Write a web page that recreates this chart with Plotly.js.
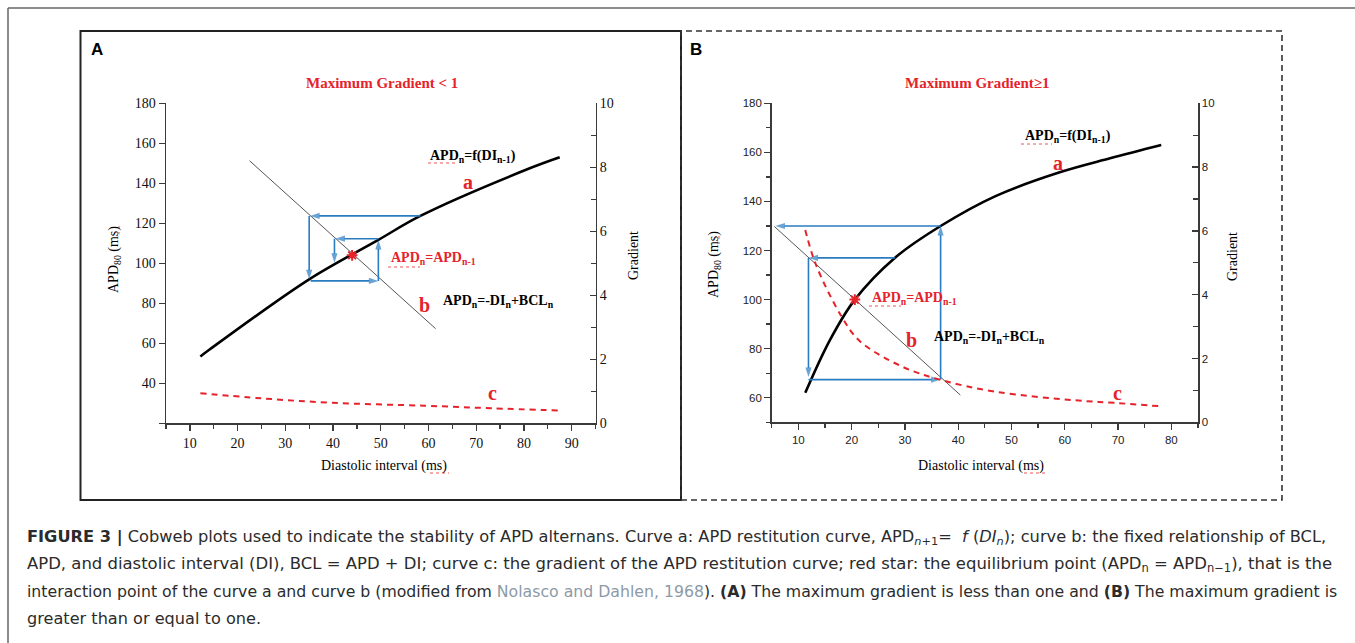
<!DOCTYPE html>
<html>
<head>
<meta charset="utf-8">
<script src="https://cdn.plot.ly/plotly-3.0.1.min.js"></script>
<style>
html,body{margin:0;padding:0;background:#fff;overflow:hidden;}
#chart{width:1355px;height:643px;}
</style>
</head>
<body>
<div id="chart"></div>
<script>
// ---------- Panel A data (Maximum Gradient < 1) ----------
const A_di_a   = [12.2, 14.2, 35.0, 49.5, 58.3, 80.7, 87.5];
const A_apd_a  = [53.4, 57.0, 92.0, 111.7, 123.7, 147.0, 153.0];
const A_di_b   = [22.5, 61.5];
const A_apd_b  = [151.3, 67.3];
const A_di_c   = [12.2, 25.0, 39.9, 59.1, 73.2, 87.5];
const A_grad_c = [0.94, 0.78, 0.64, 0.55, 0.47, 0.40];
const A_star_di  = [44.0];
const A_star_apd = [104.0];
// cobweb arrows: tail (x0,y0) -> head (x1,y1)
const A_cob_x0 = [58.3, 35.0, 35.3, 49.5, 49.5, 40.3];
const A_cob_y0 = [123.7, 123.7, 91.2, 91.2, 112.3, 112.3];
const A_cob_x1 = [35.2, 35.0, 49.5, 49.5, 40.5, 40.3];
const A_cob_y1 = [123.7, 92.0, 91.2, 111.7, 112.3, 100.3];

// ---------- Panel B data (Maximum Gradient >= 1) ----------
const B_di_a   = [11.3, 15.9, 20.6, 28.1, 36.7, 47.0, 58.9, 68.5, 78.1];
const B_apd_a  = [62.0, 83.4, 100.0, 117.0, 130.0, 142.2, 151.8, 157.6, 163.0];
const B_di_b   = [5.5, 40.4];
const B_apd_b  = [129.8, 61.1];
const B_di_c   = [11.3, 13.3, 18.1, 21.5, 29.3, 36.7, 47.0, 61.9, 69.3, 78.1];
const B_grad_c = [6.03, 4.94, 3.32, 2.55, 1.76, 1.33, 0.96, 0.69, 0.61, 0.50];
const B_star_di  = [20.6];
const B_star_apd = [100.0];
const B_cob_x0 = [36.7, 36.7, 28.1, 11.9, 11.9];
const B_cob_y0 = [67.4, 130.0, 117.0, 117.0, 67.4];
const B_cob_x1 = [36.7, 5.7, 11.9, 11.9, 36.7];
const B_cob_y1 = [130.0, 130.0, 117.0, 68.5, 67.4];

// ---------- Tick labels ----------
const A_x_ticks = [10, 20, 30, 40, 50, 60, 70, 80, 90];
const A_y_ticks = [40, 60, 80, 100, 120, 140, 160, 180];
const grad_ticks = [0, 2, 4, 6, 8, 10];
const B_x_ticks = [10, 20, 30, 40, 50, 60, 70, 80];
const B_y_ticks = [60, 80, 100, 120, 140, 160, 180];

// ---------- styles ----------
const W = 1355, H = 643;
const RED = '#e5232b', BLUE = '#2a7cc2', AX = '#3a3a3a';
const SERIF = 'Liberation Serif, Times New Roman, serif';
const SANS = 'Liberation Sans, Arial, sans-serif';
const CAPFONT = 'DejaVu Sans, Liberation Sans, sans-serif';
const px = v => v / W, py = v => 1 - v / H;

const traces = [
  {x: A_di_a, y: A_apd_a, xaxis: 'x', yaxis: 'y', mode: 'lines', line: {color: '#000', width: 2.6, shape: 'spline'}},
  {x: A_di_b, y: A_apd_b, xaxis: 'x', yaxis: 'y', mode: 'lines', line: {color: '#555', width: 1}},
  {x: A_di_c, y: A_grad_c, xaxis: 'x', yaxis: 'y2', mode: 'lines', line: {color: RED, width: 2, dash: '6px,5px', shape: 'spline'}},
  {x: B_di_a, y: B_apd_a, xaxis: 'x2', yaxis: 'y3', mode: 'lines', line: {color: '#000', width: 2.6, shape: 'spline'}},
  {x: B_di_b, y: B_apd_b, xaxis: 'x2', yaxis: 'y3', mode: 'lines', line: {color: '#555', width: 1}},
  {x: B_di_c, y: B_grad_c, xaxis: 'x2', yaxis: 'y4', mode: 'lines', line: {color: RED, width: 2, dash: '6px,5px', shape: 'spline'}}
];

function arrows(x0, y0, x1, y1, xa, ya) {
  for (let i = 0; i < x0.length; i++) {
    traces.push({x: [x0[i], x1[i]], y: [y0[i], y1[i]], xaxis: xa, yaxis: ya, mode: 'lines+markers',
      line: {color: BLUE, width: 1.6},
      marker: {symbol: ['circle', 'arrow'], size: [0, 10], angleref: 'previous', color: BLUE, line: {width: 0}}});
  }
}
arrows(A_cob_x0, A_cob_y0, A_cob_x1, A_cob_y1, 'x', 'y');
arrows(B_cob_x0, B_cob_y0, B_cob_x1, B_cob_y1, 'x2', 'y3');

traces.push({x: A_star_di, y: A_star_apd, xaxis: 'x', yaxis: 'y', mode: 'markers', marker: {symbol: 'asterisk-open', size: 9, color: RED, line: {color: RED, width: 2}}});
traces.push({x: B_star_di, y: B_star_apd, xaxis: 'x2', yaxis: 'y3', mode: 'markers', marker: {symbol: 'asterisk-open', size: 9, color: RED, line: {color: RED, width: 2}}});

const annotations = [];
function txt(t, x, y, size, color, family, opts) {
  annotations.push(Object.assign({text: t, x: px(x), y: py(y), xref: 'paper', yref: 'paper', showarrow: false,
    xanchor: 'center', yanchor: 'middle', font: {size: size, color: color, family: family}}, opts || {}));
  return annotations.length - 1;
}
// Panel A labels
txt('<b>A</b>', 97, 49, 17, '#000', SANS);
txt('<b>Maximum Gradient &lt; 1</b>', 382, 83, 15, RED, SERIF);
txt('<b>APD<sub>n</sub>=f(DI<sub>n-1</sub>)</b>', 473, 156, 14, '#000', SERIF);
txt('<b>a</b>', 468, 182, 20, RED, SERIF);
txt('<b>APD<sub>n</sub>=APD<sub>n-1</sub></b>', 433, 259, 14, RED, SERIF);
txt('<b>b</b>', 424, 305, 20, RED, SERIF);
txt('<b>APD<sub>n</sub>=-DI<sub>n</sub>+BCL<sub>n</sub></b>', 498, 301, 14, '#000', SERIF);
txt('<b>c</b>', 492, 393, 20, RED, SERIF);
txt('APD<sub>80</sub> (ms)', 114, 260, 14, '#000', SERIF, {textangle: -90});
txt('Gradient', 633, 256, 14, '#000', SERIF, {textangle: -90});
txt('Diastolic interval (ms)', 384, 466, 14, '#000', SERIF);
// Panel B labels
txt('<b>B</b>', 696, 49, 17, '#000', SANS);
txt('<b>Maximum Gradient≥1</b>', 977, 83, 15, RED, SERIF);
txt('<b>APD<sub>n</sub>=f(DI<sub>n-1</sub>)</b>', 1068, 136, 14, '#000', SERIF);
txt('<b>a</b>', 1058, 163, 20, RED, SERIF);
txt('<b>APD<sub>n</sub>=APD<sub>n-1</sub></b>', 914, 298, 14, RED, SERIF);
txt('<b>b</b>', 911, 340, 20, RED, SERIF);
txt('<b>APD<sub>n</sub>=-DI<sub>n</sub>+BCL<sub>n</sub></b>', 989, 337, 14, '#000', SERIF);
txt('<b>c</b>', 1117, 393, 20, RED, SERIF);
txt('APD<sub>80</sub> (ms)', 714, 265, 14, '#000', SERIF, {textangle: -90});
txt('Gradient', 1232, 257, 14, '#000', SERIF, {textangle: -90});
txt('Diastolic interval (ms)', 981, 466, 14, '#000', SERIF);

// Caption
const CAP = ['<b>FIGURE 3 |</b> Cobweb plots used to indicate the stability of APD alternans. Curve a: APD restitution curve, APD<sub><i>n</i>+1</sub>=  <i>f</i> (<i>DI<sub>n</sub></i>); curve b: the fixed relationship of BCL,',
  'APD, and diastolic interval (DI), BCL = APD + DI; curve c: the gradient of the APD restitution curve; red star: the equilibrium point (APD<sub>n</sub> = APD<sub>n−1</sub>), that is the',
  'interaction point of the curve a and curve b (modified from <span style="color:#8d9aa6">Nolasco and Dahlen, 1968</span>). <b>(A)</b> The maximum gradient is less than one and <b>(B)</b> The maximum gradient is',
  'greater than or equal to one.'];
const capY = [537, 564, 591, 618];
const capRight = [1325, 1331, 1337, 0];   // right end of each caption line in the reference
const CAP_X = 25, CAP_SIZE = 15.5;
const capIdx = CAP.map((t, i) => txt(t, CAP_X, capY[i], CAP_SIZE, '#2b2b2b', CAPFONT, {xanchor: 'left'}));

// spell-check style red dotted underlines seen in the reference
const squig = [[428, 458, 163], [388, 420, 267], [430, 449, 473], [1021, 1052, 144], [869, 901, 306], [1024, 1046, 473]];
const shapes = [
  {type: 'line', xref: 'paper', yref: 'paper', x0: px(8), x1: px(8), y0: py(8), y1: 0, line: {color: '#666', width: 1.5}},
  {type: 'line', xref: 'paper', yref: 'paper', x0: px(8), x1: 1, y0: py(8), y1: py(8), line: {color: '#666', width: 1.5}},
  {type: 'rect', xref: 'paper', yref: 'paper', x0: px(80.5), x1: px(681), y0: py(500), y1: py(31), line: {color: '#222', width: 2}},
  {type: 'rect', xref: 'paper', yref: 'paper', x0: px(681), x1: px(1282), y0: py(500), y1: py(31), line: {color: '#333', width: 1.6, dash: '6px,4px'}}
];
squig.forEach(s => shapes.push({type: 'line', xref: 'paper', yref: 'paper', x0: px(s[0]), x1: px(s[1]), y0: py(s[2]), y1: py(s[2]), line: {color: '#e55', width: 1, dash: 'dot'}}));
// vertical ones under "ms" of rotated titles
[[119, 226, 234], [719, 236, 244]].forEach(s => shapes.push({type: 'line', xref: 'paper', yref: 'paper', x0: px(s[0]), x1: px(s[0]), y0: py(s[1]), y1: py(s[2]), line: {color: '#e55', width: 1, dash: 'dot'}}));

const serifTick = {family: SERIF, size: 14, color: '#111'};
const sansTick = {family: SANS, size: 11.5, color: '#222'};
const base = {showgrid: false, zeroline: false, showline: true, linecolor: AX, linewidth: 1.5, tickcolor: AX, tickwidth: 1.3, ticklen: 6, fixedrange: true};

const layout = {
  width: W, height: H, margin: {l: 0, r: 0, t: 0, b: 0}, paper_bgcolor: '#fff', plot_bgcolor: 'rgba(0,0,0,0)', showlegend: false,
  xaxis: Object.assign({}, base, {domain: [px(166), px(595.5)], anchor: 'y', range: [5, 95], tickmode: 'array', tickvals: A_x_ticks, ticks: 'outside', tickfont: serifTick,
    minor: {ticks: 'outside', ticklen: 4, tick0: 0, dtick: 5, tickcolor: AX, tickwidth: 1.3}}),
  yaxis: Object.assign({}, base, {domain: [py(423.3), py(103.3)], anchor: 'x', range: [20, 180], tickmode: 'array', tickvals: A_y_ticks, ticks: 'outside', tickfont: serifTick,
    minor: {ticks: 'outside', ticklen: 6, tickmode: 'array', tickvals: [20], tickcolor: AX, tickwidth: 1.3}}),
  yaxis2: Object.assign({}, base, {overlaying: 'y', side: 'right', anchor: 'x', range: [0, 10], tickmode: 'array', tickvals: grad_ticks, ticks: 'inside', tickfont: serifTick,
    minor: {ticks: 'inside', ticklen: 5, tick0: 0, dtick: 1, tickcolor: AX, tickwidth: 1.3}}),
  xaxis2: Object.assign({}, base, {domain: [px(771.7), px(1198)], anchor: 'y3', range: [5, 85], tickmode: 'array', tickvals: B_x_ticks, ticks: 'outside', tickfont: sansTick,
    minor: {ticks: 'outside', ticklen: 4, tick0: 0, dtick: 5, tickcolor: AX, tickwidth: 1.3}}),
  yaxis3: Object.assign({}, base, {domain: [py(422.3), py(103.3)], anchor: 'x2', range: [50, 180], tickmode: 'array', tickvals: B_y_ticks, ticks: 'outside', tickfont: sansTick,
    minor: {ticks: 'outside', ticklen: 4, tick0: 0, dtick: 10, tickcolor: AX, tickwidth: 1.3}}),
  yaxis4: Object.assign({}, base, {overlaying: 'y3', side: 'right', anchor: 'x2', range: [0, 10], tickmode: 'array', tickvals: grad_ticks, ticks: 'inside', tickfont: sansTick,
    minor: {ticks: 'inside', ticklen: 5, tick0: 0, dtick: 1, tickcolor: AX, tickwidth: 1.3}}),
  annotations: annotations,
  shapes: shapes
};

Plotly.newPlot('chart', traces, layout, {staticPlot: true, displayModeBar: false}).then(gd => {
  // fit each caption line to the width it has in the reference
  const upd = {};
  let sum = 0, n = 0;
  capIdx.forEach((idx, i) => {
    if (!capRight[i]) return;
    const el = gd.querySelector('g.annotation[data-index="' + idx + '"] text');
    if (!el) return;
    const w = el.getBBox().width;
    if (w > 0) {
      const s = CAP_SIZE * (capRight[i] - CAP_X) / w;
      upd['annotations[' + idx + '].font.size'] = s;
      sum += s; n++;
    }
  });
  if (n) upd['annotations[' + capIdx[3] + '].font.size'] = sum / n;
  return Plotly.relayout(gd, upd);
});
</script>
</body>
</html>
